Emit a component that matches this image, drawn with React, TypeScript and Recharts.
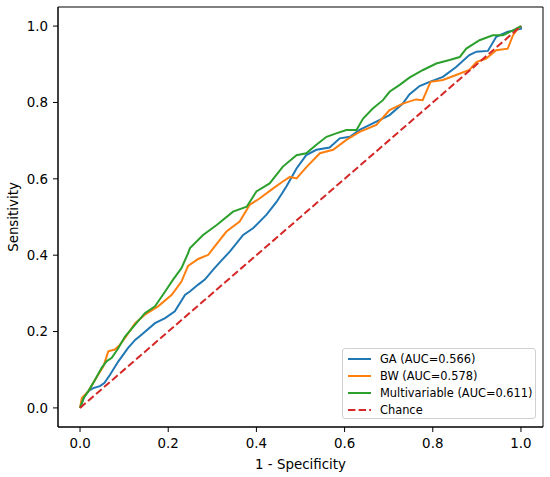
import React from 'react';
import { LineChart, Line, XAxis, YAxis, ReferenceArea } from 'recharts';

const gaX = [0, 0.01, 0.02, 0.03, 0.045, 0.055, 0.068, 0.087, 0.109, 0.125, 0.14, 0.17, 0.193, 0.215, 0.238, 0.249, 0.268, 0.283, 0.302, 0.32, 0.34, 0.37, 0.393, 0.423, 0.446, 0.468, 0.491, 0.513, 0.536, 0.566, 0.589, 0.612, 0.634, 0.672, 0.702, 0.732, 0.747, 0.77, 0.793, 0.823, 0.853, 0.883, 0.899, 0.925, 0.944, 0.97, 1.0, 1.0];
const gaY = [0, 0.03, 0.045, 0.052, 0.057, 0.065, 0.087, 0.122, 0.157, 0.178, 0.192, 0.222, 0.235, 0.253, 0.296, 0.305, 0.323, 0.336, 0.362, 0.385, 0.41, 0.453, 0.471, 0.506, 0.54, 0.58, 0.627, 0.662, 0.676, 0.682, 0.706, 0.71, 0.728, 0.75, 0.767, 0.797, 0.821, 0.843, 0.854, 0.867, 0.893, 0.924, 0.933, 0.935, 0.972, 0.985, 0.993, 1];

const bwX = [0, 0.004, 0.019, 0.03, 0.041, 0.053, 0.064, 0.079, 0.09, 0.102, 0.125, 0.147, 0.177, 0.208, 0.23, 0.245, 0.268, 0.291, 0.302, 0.332, 0.362, 0.385, 0.408, 0.438, 0.46, 0.476, 0.491, 0.513, 0.544, 0.574, 0.604, 0.634, 0.672, 0.702, 0.732, 0.762, 0.777, 0.795, 0.823, 0.853, 0.883, 0.899, 0.921, 0.944, 0.97, 0.982, 0.993, 1.0];
const bwY = [0, 0.026, 0.044, 0.065, 0.087, 0.109, 0.148, 0.153, 0.165, 0.183, 0.222, 0.244, 0.266, 0.296, 0.331, 0.372, 0.39, 0.401, 0.418, 0.462, 0.488, 0.532, 0.549, 0.575, 0.593, 0.605, 0.601, 0.63, 0.667, 0.676, 0.702, 0.723, 0.741, 0.78, 0.797, 0.808, 0.806, 0.854, 0.859, 0.872, 0.885, 0.906, 0.915, 0.937, 0.941, 0.976, 0.993, 1];

const mvX = [0, 0.008, 0.019, 0.034, 0.049, 0.06, 0.072, 0.087, 0.102, 0.125, 0.147, 0.17, 0.193, 0.211, 0.23, 0.245, 0.249, 0.279, 0.31, 0.347, 0.378, 0.4, 0.43, 0.46, 0.491, 0.513, 0.536, 0.559, 0.581, 0.604, 0.627, 0.642, 0.664, 0.687, 0.702, 0.725, 0.747, 0.778, 0.808, 0.838, 0.861, 0.876, 0.906, 0.936, 0.959, 0.982, 1.0];
const mvY = [0, 0.026, 0.044, 0.074, 0.105, 0.122, 0.131, 0.157, 0.187, 0.218, 0.248, 0.266, 0.305, 0.336, 0.366, 0.405, 0.418, 0.453, 0.479, 0.514, 0.527, 0.567, 0.588, 0.632, 0.662, 0.667, 0.689, 0.71, 0.719, 0.728, 0.728, 0.758, 0.784, 0.806, 0.828, 0.846, 0.865, 0.885, 0.902, 0.911, 0.919, 0.941, 0.963, 0.976, 0.976, 0.989, 1];

const chanceX = [0, 1];
const chanceY = [0, 1];

const ticks = [0, 0.2, 0.4, 0.6, 0.8, 1.0];

const seriesNames = ['GA (AUC=0.566)', 'BW (AUC=0.578)', 'Multivariable (AUC=0.611)', 'Chance'];
const colors = ['#1f77b4', '#ff7f0e', '#2ca02c', '#d62728'];

const toPoints = (xs: number[], ys: number[]) => xs.map((x, i) => ({ x, y: ys[i] }));

const gaData = toPoints(gaX, gaY);
const bwData = toPoints(bwX, bwY);
const mvData = toPoints(mvX, mvY);
const chanceData = toPoints(chanceX, chanceY);

const FONT = '"DejaVu Sans", sans-serif';
const fmt = (v: number) => v.toFixed(1);

export default function App() {
  return (
    <div style={{ position: 'absolute', left: 0, top: 0, width: 550, height: 477, background: '#fff', fontFamily: FONT }}>
      <LineChart width={550} height={477} margin={{ top: 7, right: 7, left: 0, bottom: 0 }}>
        <XAxis
          type="number"
          dataKey="x"
          domain={[-0.05, 1.05]}
          ticks={ticks}
          tickFormatter={fmt}
          height={50}
          tickSize={5}
          tickMargin={6}
          allowDataOverflow
          stroke="#000"
          tick={{ fill: '#000', fontSize: 13.4, fontFamily: FONT }}
          label={{ value: '1 - Specificity', position: 'insideBottom', offset: 8.5, fill: '#000', fontSize: 13.4, fontFamily: FONT }}
        />
        <YAxis
          type="number"
          dataKey="y"
          domain={[-0.05, 1.05]}
          ticks={ticks}
          tickFormatter={fmt}
          width={58}
          tickSize={5}
          tickMargin={5}
          allowDataOverflow
          stroke="#000"
          tick={{ fill: '#000', fontSize: 13.4, fontFamily: FONT }}
          label={{ value: 'Sensitivity', angle: -90, position: 'insideLeft', offset: 13.5, fill: '#000', fontSize: 13.4, fontFamily: FONT, style: { textAnchor: 'middle' } }}
        />
        <ReferenceArea x1={-0.05} x2={1.05} y1={-0.05} y2={1.05} fill="none" stroke="#000" strokeWidth={1} ifOverflow="visible" />
        <Line data={gaData} dataKey="y" name={seriesNames[0]} type="linear" stroke={colors[0]} strokeWidth={2} dot={false} isAnimationActive={false} />
        <Line data={bwData} dataKey="y" name={seriesNames[1]} type="linear" stroke={colors[1]} strokeWidth={2} dot={false} isAnimationActive={false} />
        <Line data={mvData} dataKey="y" name={seriesNames[2]} type="linear" stroke={colors[2]} strokeWidth={2} dot={false} isAnimationActive={false} />
        <Line data={chanceData} dataKey="y" name={seriesNames[3]} type="linear" stroke={colors[3]} strokeWidth={2} strokeDasharray="7.4 3.2" dot={false} isAnimationActive={false} />
      </LineChart>
      <div
        style={{
          position: 'absolute',
          left: 342,
          top: 348,
          width: 194,
          height: 71,
          border: '1px solid #d0d0d0',
          borderRadius: 3,
          background: 'rgba(255,255,255,0.8)',
          boxSizing: 'border-box',
        }}
      >
        {seriesNames.map((name, i) => (
          <div key={name} style={{ position: 'absolute', left: 0, top: 9.5 + i * 17.2 - 8, height: 16, width: '100%' }}>
            <svg width={26} height={16} style={{ position: 'absolute', left: 3.5, top: 0 }}>
              <line x1={1} y1={8} x2={24} y2={8} stroke={colors[i]} strokeWidth={2} strokeDasharray={i === 3 ? '7.4 3.2' : undefined} />
            </svg>
            <span style={{ position: 'absolute', left: 37, top: 0, lineHeight: '16px', fontSize: 11.4, color: '#000', whiteSpace: 'nowrap' }}>{name}</span>
          </div>
        ))}
      </div>
    </div>
  );
}
